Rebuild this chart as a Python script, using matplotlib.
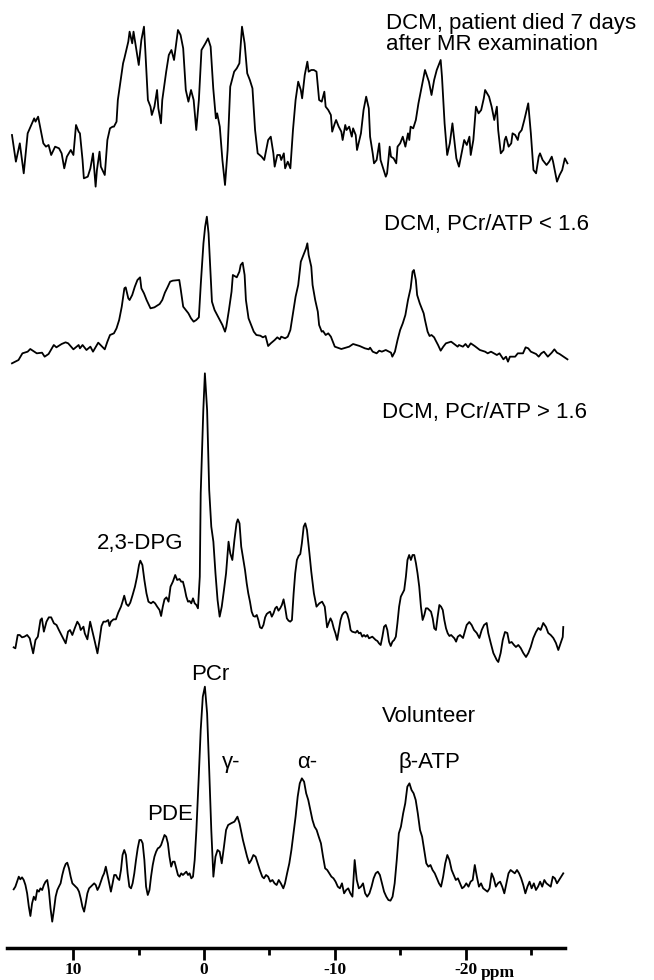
import numpy as np
import matplotlib.pyplot as plt

# 31P MR spectra, (ppm, intensity in a.u.)
died = np.array([
    (14.7, 155), (14.4, 75), (14.1, 130), (13.8, 40), (13.5, 160), (13.0, 205), (12.9, 195),
    (12.7, 210), (12.5, 170), (12.3, 130), (12.1, 120), (11.9, 125), (11.7, 95), (11.4, 120),
    (11.1, 115), (10.9, 100), (10.7, 55), (10.5, 90), (10.2, 110), (10.0, 95), (9.8, 185),
    (9.6, 165), (9.5, 160), (9.3, 80), (9.2, 25), (8.9, 30), (8.7, 55), (8.5, 100), (8.3, 0),
    (8.2, 50), (8.0, 105), (7.9, 60), (7.6, 35), (7.4, 140), (7.2, 175), (7.0, 180), (6.9, 180),
    (6.7, 195), (6.6, 260), (6.2, 370), (6.1, 385), (5.8, 435), (5.7, 465), (5.5, 430),
    (5.4, 465), (5.2, 415), (5.0, 365), (4.8, 440), (4.6, 480), (4.5, 410), (4.3, 260),
    (4.1, 240), (4.0, 215), (3.8, 240), (3.6, 290), (3.5, 235), (3.3, 190), (3.2, 260),
    (2.9, 345), (2.7, 395), (2.5, 410), (2.3, 380), (2.2, 410), (2.0, 470), (1.8, 455),
    (1.6, 415), (1.4, 290), (1.2, 255), (1.0, 290), (0.8, 260), (0.6, 170), (0.4, 260),
    (0.2, 410), (-0.1, 430), (-0.3, 445), (-0.5, 420), (-0.7, 295), (-0.9, 205), (-1.0, 220),
    (-1.2, 180), (-1.4, 80), (-1.6, 5), (-1.8, 110), (-2.0, 300), (-2.3, 345), (-2.5, 355),
    (-2.7, 370), (-2.9, 480), (-3.1, 430), (-3.3, 340), (-3.5, 320), (-3.7, 295), (-3.9, 170),
    (-4.1, 100), (-4.4, 90), (-4.6, 80), (-4.9, 140), (-5.1, 150), (-5.3, 100), (-5.4, 60),
    (-5.6, 95), (-5.8, 95), (-5.9, 80), (-6.1, 100), (-6.2, 55), (-6.4, 75), (-6.6, 55),
    (-6.8, 170), (-7.0, 260), (-7.2, 315), (-7.4, 290), (-7.5, 265), (-7.7, 335), (-7.9, 375),
    (-8.0, 345), (-8.2, 350), (-8.4, 350), (-8.6, 345), (-8.8, 260), (-9.0, 255), (-9.2, 285),
    (-9.3, 240), (-9.5, 230), (-9.7, 215), (-9.8, 165), (-10.0, 190), (-10.1, 200),
    (-10.3, 180), (-10.5, 165), (-10.6, 140), (-10.8, 185), (-10.9, 170), (-11.1, 180),
    (-11.3, 150), (-11.4, 175), (-11.6, 155), (-11.7, 110), (-12.0, 160), (-12.2, 230),
    (-12.4, 270), (-12.6, 235), (-12.7, 150), (-12.9, 100), (-13.0, 70), (-13.2, 80),
    (-13.4, 130), (-13.5, 80), (-13.7, 55), (-13.9, 30), (-14.0, 40), (-14.2, 120), (-14.3, 90),
    (-14.5, 85), (-14.7, 70), (-14.8, 120), (-15.0, 130), (-15.2, 150), (-15.4, 120),
    (-15.6, 160), (-15.7, 140), (-15.8, 180), (-16.0, 175), (-16.2, 200), (-16.4, 250),
    (-16.7, 310), (-16.9, 350), (-17.2, 315), (-17.4, 275), (-17.6, 320), (-17.8, 350),
    (-18.1, 380), (-18.2, 330), (-18.4, 190), (-18.6, 95), (-18.8, 130), (-19.0, 190),
    (-19.3, 85), (-19.5, 60), (-19.8, 120), (-19.9, 140), (-20.1, 125), (-20.3, 150),
    (-20.4, 95), (-20.6, 140), (-20.8, 240), (-21.0, 220), (-21.2, 230), (-21.4, 265),
    (-21.5, 290), (-21.8, 270), (-22.0, 240), (-22.2, 200), (-22.4, 240), (-22.5, 170),
    (-22.7, 100), (-22.9, 110), (-23.0, 140), (-23.1, 150), (-23.3, 120), (-23.5, 130),
    (-23.6, 160), (-23.8, 155), (-24.0, 140), (-24.1, 160), (-24.3, 170), (-24.5, 200),
    (-24.8, 250), (-25.0, 160), (-25.2, 50), (-25.4, 40), (-25.6, 90), (-25.7, 100),
    (-25.9, 80), (-26.2, 65), (-26.4, 75), (-26.6, 90), (-26.7, 75), (-27.0, 15), (-27.2, 35),
    (-27.4, 50), (-27.6, 85), (-27.8, 70),
])

pcr_low = np.array([
    (14.7, 5), (14.2, 15), (13.9, 35), (13.5, 40), (13.3, 48), (12.8, 35), (12.4, 37),
    (12.2, 25), (11.9, 33), (11.5, 60), (11.3, 53), (10.9, 63), (10.6, 68), (10.4, 65),
    (10.0, 47), (9.6, 60), (9.5, 50), (9.3, 60), (9.0, 45), (8.7, 55), (8.5, 40), (8.1, 67),
    (7.6, 47), (7.4, 70), (7.2, 90), (6.9, 95), (6.7, 110), (6.5, 135), (6.3, 175), (6.1, 230),
    (6.0, 233), (5.8, 200), (5.7, 195), (5.5, 210), (5.3, 235), (5.1, 255), (4.9, 263),
    (4.8, 230), (4.6, 215), (4.4, 195), (4.1, 170), (3.8, 173), (3.4, 183), (3.2, 195),
    (3.0, 217), (2.8, 233), (2.6, 250), (2.4, 253), (1.9, 255), (1.8, 230), (1.6, 175),
    (1.4, 165), (1.2, 155), (1.0, 140), (0.8, 130), (0.6, 135), (0.4, 143), (0.25, 245),
    (0.05, 365), (-0.08, 415), (-0.21, 445), (-0.34, 395), (-0.47, 295), (-0.6, 190),
    (-0.8, 165), (-1.0, 150), (-1.2, 135), (-1.4, 120), (-1.6, 100), (-1.7, 115), (-1.9, 165),
    (-2.1, 220), (-2.2, 270), (-2.5, 263), (-2.7, 280), (-2.8, 300), (-2.95, 307), (-3.1, 270),
    (-3.2, 195), (-3.4, 140), (-3.6, 120), (-3.8, 100), (-4.0, 90), (-4.3, 88), (-4.5, 83),
    (-4.7, 87), (-4.9, 57), (-5.1, 65), (-5.4, 75), (-5.6, 83), (-5.8, 77), (-5.9, 85),
    (-6.2, 80), (-6.4, 85), (-6.6, 105), (-6.8, 155), (-7.0, 205), (-7.2, 240), (-7.4, 310),
    (-7.6, 330), (-7.8, 350), (-7.9, 365), (-8.0, 330), (-8.2, 295), (-8.3, 240), (-8.5, 195),
    (-8.7, 160), (-8.8, 120), (-9.0, 100), (-9.1, 102), (-9.3, 90), (-9.5, 95), (-9.7, 85),
    (-9.8, 75), (-10.0, 55), (-10.5, 48), (-11.1, 55), (-11.4, 63), (-11.9, 57), (-12.3, 50),
    (-12.6, 47), (-12.7, 52), (-12.9, 40), (-13.2, 35), (-13.4, 43), (-13.6, 40), (-13.9, 45),
    (-14.3, 37), (-14.4, 25), (-14.6, 40), (-14.8, 75), (-15.0, 105), (-15.2, 125),
    (-15.4, 150), (-15.6, 195), (-15.8, 230), (-15.95, 280), (-16.05, 285), (-16.2, 255),
    (-16.3, 210), (-16.5, 185), (-16.8, 155), (-16.9, 135), (-17.1, 100), (-17.25, 87),
    (-17.4, 90), (-17.6, 83), (-17.7, 75), (-17.9, 60), (-18.1, 43), (-18.3, 55), (-18.5, 65),
    (-18.9, 70), (-19.4, 55), (-19.5, 60), (-19.8, 55), (-20.0, 63), (-20.2, 53), (-20.4, 65),
    (-20.7, 57), (-21.1, 45), (-21.5, 40), (-21.7, 35), (-21.95, 40), (-22.4, 30), (-22.6, 35),
    (-22.9, 17), (-23.1, 25), (-23.25, 10), (-23.4, 25), (-23.8, 25), (-24.0, 35), (-24.4, 35),
    (-24.6, 53), (-24.8, 50), (-25.0, 40), (-25.4, 33), (-25.6, 25), (-25.8, 35), (-26.0, 40),
    (-26.2, 30), (-26.3, 25), (-26.6, 37), (-26.8, 47), (-27.0, 37), (-27.2, 33), (-27.5, 25),
    (-27.8, 17),
])

pcr_high = np.array([
    (14.57, 38), (14.44, 35), (14.26, 75), (14.11, 75), (13.93, 68), (13.75, 70), (13.54, 75),
    (13.34, 65), (13.08, 20), (12.90, 60), (12.72, 70), (12.52, 120), (12.41, 125),
    (12.26, 85), (12.06, 115), (11.88, 128), (11.70, 128), (11.49, 110), (11.29, 105),
    (11.11, 90), (10.85, 70), (10.59, 50), (10.41, 85), (10.26, 90), (10.08, 75), (9.90, 95),
    (9.70, 115), (9.54, 105), (9.44, 90), (9.23, 100), (9.13, 80), (8.93, 62), (8.72, 115),
    (8.54, 85), (8.36, 55), (8.16, 20), (8.00, 60), (7.85, 102), (7.70, 115), (7.52, 115),
    (7.34, 120), (7.24, 102), (7.13, 115), (6.93, 122), (6.75, 122), (6.57, 142), (6.36, 160),
    (6.24, 175), (6.11, 193), (5.95, 168), (5.80, 162), (5.65, 172), (5.47, 195), (5.29, 220),
    (5.13, 250), (4.98, 285), (4.88, 298), (4.72, 285), (4.57, 240), (4.41, 200), (4.26, 175),
    (4.06, 170), (3.90, 175), (3.75, 170), (3.59, 160), (3.41, 150), (3.29, 132), (3.16, 160),
    (3.03, 182), (2.88, 188), (2.72, 175), (2.57, 220), (2.39, 235), (2.21, 255), (2.06, 240),
    (1.88, 243), (1.75, 235), (1.62, 235), (1.49, 215), (1.36, 190), (1.23, 175), (1.11, 177),
    (0.98, 170), (0.85, 185), (0.72, 170), (0.59, 165), (0.47, 155), (0.33, 250), (0.26, 500),
    (0.06, 750), (-0.06, 860), (-0.23, 750), (-0.39, 510), (-0.55, 400), (-0.71, 355),
    (-0.87, 260), (-1.03, 180), (-1.19, 130), (-1.35, 160), (-1.52, 210), (-1.68, 260),
    (-1.87, 355), (-2.0, 320), (-2.16, 300), (-2.32, 360), (-2.48, 410), (-2.58, 422),
    (-2.71, 410), (-2.84, 340), (-3.13, 270), (-3.26, 230), (-3.38, 200), (-3.51, 175),
    (-3.64, 145), (-3.77, 132), (-3.90, 130), (-4.03, 135), (-4.15, 120), (-4.28, 98),
    (-4.41, 95), (-4.54, 105), (-4.67, 128), (-4.79, 138), (-4.92, 142), (-5.05, 145),
    (-5.18, 130), (-5.31, 140), (-5.44, 155), (-5.56, 160), (-5.69, 148), (-5.82, 155),
    (-5.95, 165), (-6.08, 182), (-6.21, 155), (-6.33, 125), (-6.46, 118), (-6.59, 115),
    (-6.72, 120), (-6.85, 200), (-6.97, 260), (-7.10, 300), (-7.23, 312), (-7.36, 318),
    (-7.48, 350), (-7.62, 400), (-7.74, 410), (-7.87, 390), (-8.06, 320), (-8.2, 265),
    (-8.4, 200), (-8.6, 160), (-8.82, 170), (-9.03, 175), (-9.23, 160), (-9.41, 98),
    (-9.54, 112), (-9.67, 125), (-9.79, 115), (-9.92, 95), (-10.05, 80), (-10.18, 60),
    (-10.31, 90), (-10.44, 120), (-10.56, 135), (-10.69, 142), (-10.82, 145), (-10.95, 138),
    (-11.08, 120), (-11.21, 90), (-11.33, 85), (-11.59, 82), (-11.72, 88), (-11.85, 80),
    (-11.97, 82), (-12.10, 70), (-12.23, 75), (-12.36, 70), (-12.49, 75), (-12.62, 65),
    (-12.87, 70), (-13.0, 65), (-13.13, 60), (-13.26, 57), (-13.38, 50), (-13.51, 45),
    (-13.64, 70), (-13.77, 100), (-13.90, 105), (-14.02, 90), (-14.15, 55), (-14.28, 42),
    (-14.41, 55), (-14.54, 60), (-14.67, 70), (-14.79, 110), (-14.92, 160), (-15.05, 190),
    (-15.18, 200), (-15.31, 210), (-15.44, 250), (-15.56, 300), (-15.69, 315), (-15.82, 300),
    (-15.95, 315), (-16.08, 315), (-16.21, 290), (-16.33, 260), (-16.46, 220), (-16.59, 160),
    (-16.72, 120), (-16.85, 135), (-16.97, 155), (-17.10, 155), (-17.23, 150), (-17.36, 145),
    (-17.49, 125), (-17.61, 95), (-17.74, 90), (-17.87, 130), (-18.0, 165), (-18.13, 160),
    (-18.26, 150), (-18.38, 120), (-18.51, 95), (-18.64, 80), (-18.77, 72), (-18.90, 75),
    (-19.02, 70), (-19.15, 65), (-19.28, 55), (-19.41, 70), (-19.58, 75), (-19.81, 66),
    (-20.09, 105), (-20.29, 114), (-20.47, 105), (-20.65, 90), (-20.86, 81), (-21.06, 66),
    (-21.24, 90), (-21.42, 105), (-21.62, 111), (-21.74, 81), (-21.93, 51), (-22.13, 21),
    (-22.39, 0), (-22.51, -6), (-22.69, 21), (-22.85, 60), (-23.02, 84), (-23.20, 81),
    (-23.35, 51), (-23.53, 54), (-23.71, 45), (-23.86, 39), (-24.04, 45), (-24.22, 36),
    (-24.42, 21), (-24.63, 9), (-24.81, 21), (-24.99, 39), (-25.19, 66), (-25.39, 84),
    (-25.57, 96), (-25.75, 90), (-25.95, 111), (-26.16, 99), (-26.33, 81), (-26.52, 75),
    (-26.72, 66), (-26.92, 51), (-27.10, 30), (-27.28, 51), (-27.44, 69), (-27.48, 99),
])

volunteer = np.array([
    (14.57, 107), (14.44, 115), (14.31, 130), (14.18, 145), (14.06, 137), (13.93, 143),
    (13.80, 135), (13.67, 120), (13.54, 95), (13.41, 55), (13.29, 27), (13.16, 65),
    (13.03, 85), (12.90, 75), (12.77, 105), (12.64, 100), (12.52, 110), (12.39, 105),
    (12.26, 120), (12.13, 130), (12.0, 135), (11.88, 105), (11.75, 50), (11.62, 10),
    (11.49, 45), (11.36, 85), (11.23, 105), (11.11, 115), (10.98, 125), (10.85, 150),
    (10.72, 170), (10.59, 183), (10.47, 187), (10.34, 170), (10.21, 145), (10.08, 125),
    (9.95, 120), (9.82, 115), (9.70, 110), (9.57, 100), (9.44, 80), (9.31, 55), (9.18, 40),
    (9.06, 65), (8.93, 95), (8.80, 110), (8.67, 115), (8.54, 120), (8.41, 125), (8.29, 120),
    (8.16, 105), (8.03, 115), (7.90, 130), (7.77, 145), (7.65, 155), (7.52, 175), (7.39, 150),
    (7.26, 125), (7.13, 100), (7.0, 125), (6.88, 150), (6.75, 150), (6.62, 140), (6.49, 135),
    (6.36, 165), (6.24, 210), (6.11, 225), (5.98, 210), (5.85, 155), (5.72, 115), (5.59, 110),
    (5.47, 125), (5.34, 155), (5.21, 195), (5.08, 230), (4.95, 255), (4.82, 255), (4.70, 245),
    (4.57, 195), (4.44, 115), (4.31, 90), (4.18, 105), (4.06, 145), (3.93, 180), (3.80, 205),
    (3.67, 220), (3.54, 230), (3.41, 233), (3.29, 240), (3.16, 255), (3.03, 270), (2.90, 265),
    (2.77, 245), (2.65, 205), (2.52, 175), (2.39, 190), (2.26, 190), (2.13, 170), (2.0, 150),
    (1.88, 145), (1.75, 155), (1.62, 150), (1.49, 155), (1.36, 160), (1.23, 150), (1.11, 155),
    (0.98, 140), (0.85, 145), (0.72, 195), (0.59, 285), (0.42, 435), (0.26, 585), (0.10, 685),
    (-0.06, 715), (-0.23, 635), (-0.39, 465), (-0.55, 285), (-0.71, 145), (-0.87, 205),
    (-1.03, 225), (-1.19, 220), (-1.35, 185), (-1.52, 235), (-1.68, 285), (-1.84, 300),
    (-2.06, 305), (-2.32, 310), (-2.55, 325), (-2.71, 305), (-2.97, 255), (-3.16, 225),
    (-3.29, 205), (-3.45, 185), (-3.61, 195), (-3.77, 210), (-3.94, 205), (-4.10, 185),
    (-4.26, 165), (-4.45, 145), (-4.58, 140), (-4.74, 150), (-4.90, 145), (-5.06, 130),
    (-5.23, 135), (-5.39, 125), (-5.55, 120), (-5.71, 135), (-5.87, 125), (-6.06, 110),
    (-6.19, 125), (-6.35, 155), (-6.52, 185), (-6.68, 225), (-6.84, 275), (-7.0, 325),
    (-7.16, 385), (-7.32, 425), (-7.48, 440), (-7.65, 430), (-7.81, 395), (-7.97, 375),
    (-8.13, 345), (-8.29, 315), (-8.45, 295), (-8.61, 285), (-8.77, 265), (-8.94, 245),
    (-9.10, 205), (-9.26, 170), (-9.42, 165), (-9.74, 145), (-9.90, 140), (-10.06, 130),
    (-10.23, 115), (-10.39, 110), (-10.55, 125), (-10.71, 95), (-10.87, 105), (-11.03, 110),
    (-11.19, 95), (-11.35, 85), (-11.52, 195), (-11.68, 135), (-11.84, 110), (-12.0, 115),
    (-12.16, 125), (-12.32, 95), (-12.48, 85), (-12.65, 95), (-12.81, 115), (-12.97, 140),
    (-13.13, 155), (-13.29, 160), (-13.45, 150), (-13.61, 125), (-13.77, 100), (-13.94, 85),
    (-14.10, 75), (-14.26, 73), (-14.42, 85), (-14.58, 125), (-14.74, 195), (-14.90, 275),
    (-15.06, 295), (-15.23, 335), (-15.39, 365), (-15.55, 415), (-15.71, 425), (-15.87, 405),
    (-16.03, 395), (-16.19, 375), (-16.35, 335), (-16.52, 285), (-16.68, 265), (-16.84, 225),
    (-17.0, 185), (-17.16, 175), (-17.32, 180), (-17.48, 165), (-17.65, 155), (-17.81, 140),
    (-17.97, 125), (-18.13, 115), (-18.29, 145), (-18.45, 185), (-18.61, 210), (-18.77, 195),
    (-18.94, 165), (-19.10, 150), (-19.26, 135), (-19.42, 140), (-19.58, 125), (-19.74, 110),
    (-19.90, 115), (-20.06, 125), (-20.23, 115), (-20.39, 130), (-20.55, 135), (-20.71, 180),
    (-20.87, 145), (-21.03, 115), (-21.19, 125), (-21.35, 110), (-21.52, 105), (-21.68, 100),
    (-21.84, 110), (-22.0, 155), (-22.16, 140), (-22.32, 115), (-22.48, 125), (-22.65, 130),
    (-22.81, 115), (-22.97, 95), (-23.13, 125), (-23.29, 155), (-23.45, 165), (-23.61, 160),
    (-23.77, 155), (-23.94, 165), (-24.10, 155), (-24.26, 140), (-24.42, 120), (-24.58, 95),
    (-24.74, 115), (-24.90, 130), (-25.06, 110), (-25.23, 125), (-25.39, 105), (-25.55, 115),
    (-25.71, 130), (-25.87, 115), (-26.03, 135), (-26.19, 125), (-26.35, 120), (-26.52, 115),
    (-26.68, 145), (-26.84, 140), (-27.0, 125), (-27.16, 135), (-27.32, 145), (-27.48, 155),
])

major_ticks = [10, 0, -10, -20]
major_labels = ["10", "0", "-10", "-20"]
minor_ticks = [5, -5, -15, -25]

# vertical stacking of the four spectra (same a.u. as the data)
spectra = [died, pcr_low, pcr_high, volunteer]
stack_base = [2284, 1749, 864, 69]

W, H = 654, 980
X0, PX_PER_PPM = 204.1, 13.07   # pixel column of 0 ppm, pixels per ppm

fig = plt.figure(figsize=(W / 100, H / 100), dpi=100)
ax = fig.add_axes([0, 32 / H, 1, 948 / H])

for spec, base in zip(spectra, stack_base):
    ax.plot(spec[:, 0], spec[:, 1] + base, color="black", lw=1.3,
            solid_joinstyle="round")

ax.set_xlim(X0 / PX_PER_PPM, (X0 - W) / PX_PER_PPM)
ax.set_ylim(0, 2844)

for side in ["top", "left", "right"]:
    ax.spines[side].set_visible(False)
ax.spines["bottom"].set_bounds(15.1, -27.6)
ax.spines["bottom"].set_linewidth(2.5)
ax.set_yticks([])
ax.set_xticks(major_ticks)
ax.set_xticklabels(major_labels)
ax.set_xticks(minor_ticks, minor=True)
ax.tick_params(axis="x", which="major", direction="out", length=8.5, width=2, pad=1.5,
               labelsize=12.5)
ax.tick_params(axis="x", which="minor", direction="out", length=5, width=2)
for lab in ax.get_xticklabels():
    lab.set_fontfamily("Liberation Serif")
    lab.set_fontweight("bold")

fig.text(481 / W, 1 - 977 / H, "ppm", fontsize=12.5, fontfamily="Liberation Serif",
         fontweight="bold", va="baseline", ha="left")


# annotation text, placed by pixel (left edge / baseline) in the 654x980 frame
def label(s, x, y, ha="left", size=16):
    fig.text(x / W, 1 - y / H, s, fontsize=size, fontfamily="Liberation Sans",
             ha=ha, va="baseline")


label("DCM, patient died 7 days", 386, 28.5)
label("after MR examination", 386, 50.5)
label("DCM, PCr/ATP < 1.6", 384, 230)
label("DCM, PCr/ATP > 1.6", 382, 418)
label("2,3-DPG", 97, 549)
label("PCr", 210, 680, ha="center")
label("Volunteer", 382, 722)
label("γ-", 222, 768)
label("α-", 297, 768)
label("β-ATP", 399, 768)
label("PDE", 147, 820)

fig.savefig("out.png", dpi=100)
